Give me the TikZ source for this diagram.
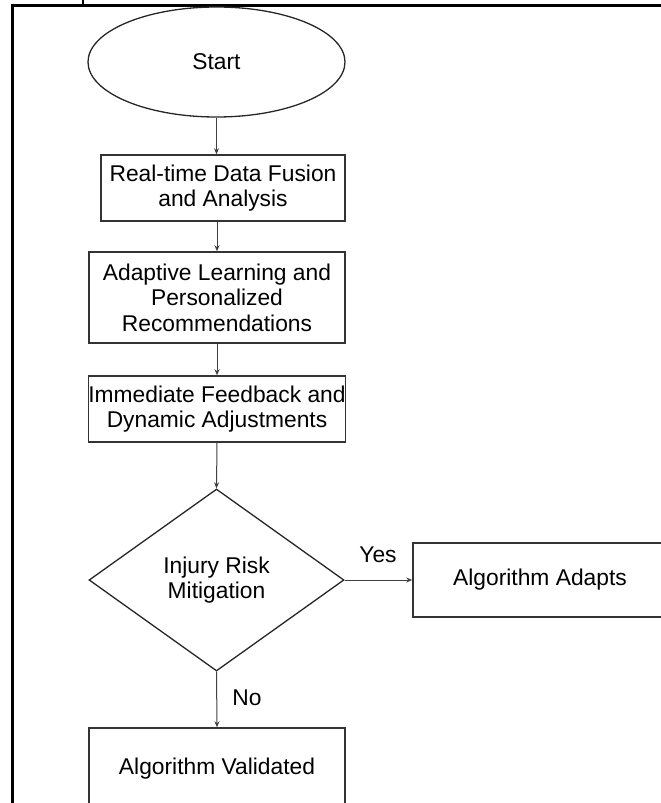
\documentclass[tikz,border=0pt]{standalone}
\usepackage{fontspec}
\setmainfont{Liberation Sans}
\usetikzlibrary{shapes.geometric,arrows.meta}
\begin{document}
\begin{tikzpicture}[x=1pt,y=-1pt,
  every node/.style={font=\fontsize{22.8}{25.5}\selectfont},
  boxnode/.style={draw=black!80,line width=1.5pt,inner sep=0pt,align=center},
  conn/.style={draw=black!75,line width=1pt,-{Stealth[length=6pt,width=5pt]}},
  lbl/.style={inner sep=0pt}]
\useasboundingbox (0,0) rectangle (661,803);
\draw[line width=3pt] (12,803) -- (12,5) -- (661,5);
\draw[line width=2pt] (83,0) -- (83,5);
\node[ellipse, draw=black!85, line width=1.3pt, minimum width=257pt, minimum height=110pt, inner sep=0pt] (start) at (216.5,62) {Start};
\node[boxnode, minimum width=244pt, minimum height=66pt] (b1) at (223,188) {Real-time Data Fusion\\and Analysis};
\node[boxnode, minimum width=256pt, minimum height=91pt] (b2) at (217,297.5) {Adaptive Learning and\\Personalized\\Recommendations};
\node[boxnode, minimum width=256pt, minimum height=66pt] (b3) at (217,409) {Immediate Feedback and\\Dynamic Adjustments};
\node[diamond, draw=black!85, line width=1.3pt, minimum width=255pt, minimum height=182pt, inner sep=0pt, align=center] (dia) at (216.5,580) {Injury Risk\\Mitigation};
\node[boxnode, minimum width=254pt, minimum height=74pt] (aa) at (540,580) {Algorithm Adapts};
\node[boxnode, minimum width=256pt, minimum height=82pt] (av) at (217,769) {Algorithm Validated};
\node[lbl] (yes) at (378,555) {Yes};
\node[lbl] (no) at (247,698) {No};
\draw[conn] (start.south) -- (start.south |- b1.north);
\draw[conn] (b2.north |- b1.south) -- (b2.north);
\draw[conn] (b2.south) -- (b3.north);
\draw[conn] (b3.south) -- (dia.north);
\draw[conn] (dia.east) -- (aa.west);
\draw[conn] (dia.south) -- (av.north);
\end{tikzpicture}
\end{document}
